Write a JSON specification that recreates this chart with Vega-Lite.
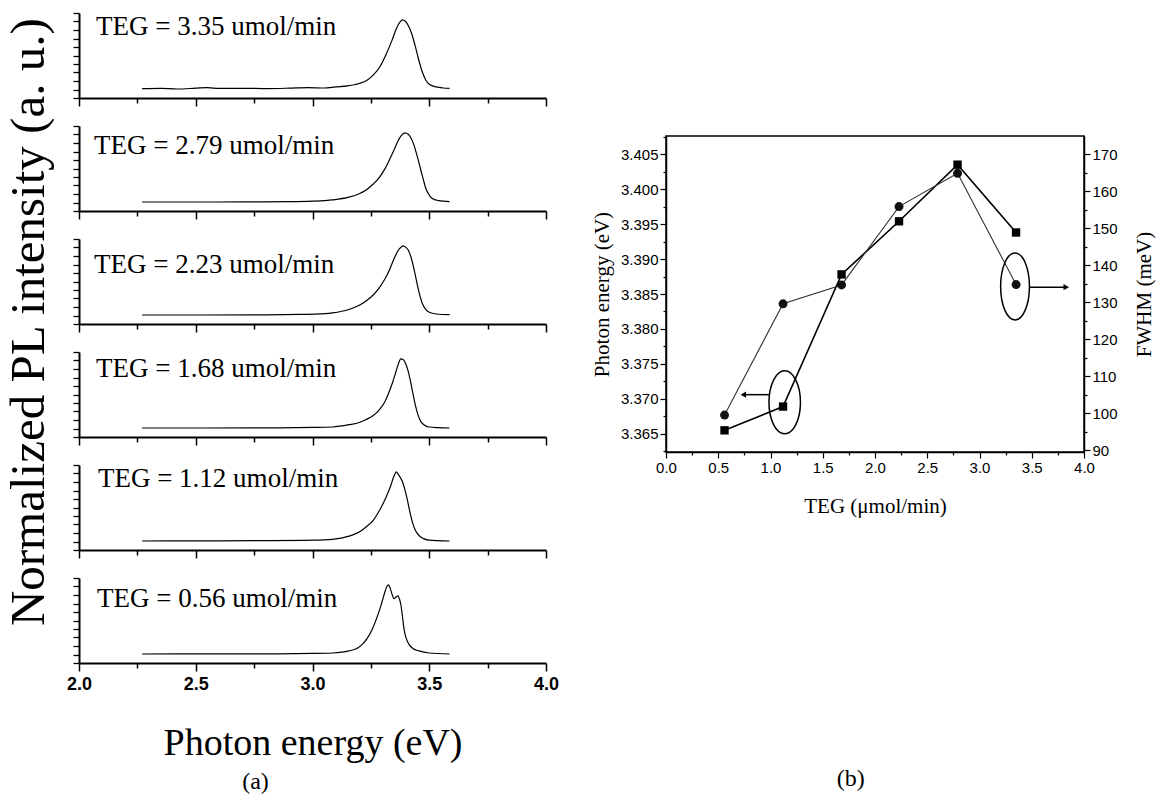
{
  "$schema": "https://vega.github.io/schema/vega-lite/v6.json",
  "background": "white",
  "padding": {"left": 5, "top": 12, "right": 5, "bottom": 5},
  "config": {
    "view": {"stroke": null},
    "font": "Liberation Sans",
    "axis": {"grid": false, "domainColor": "black", "tickColor": "black", "labelColor": "black", "titleColor": "black", "labelOverlap": false, "labelFlush": false, "tickCount": 60},
    "title": {"color": "black"}
  },
  "datasets": {
    "spectra": [
      {"teg": "3.35", "e": 2.27, "i": 0.005}, {"teg": "3.35", "e": 2.35, "i": 0.01}, {"teg": "3.35", "e": 2.42, "i": 0.0}, {"teg": "3.35", "e": 2.5, "i": 0.012}, {"teg": "3.35", "e": 2.55, "i": 0.02}, {"teg": "3.35", "e": 2.6, "i": 0.008}, {"teg": "3.35", "e": 2.7, "i": 0.01}, {"teg": "3.35", "e": 2.8, "i": 0.006}, {"teg": "3.35", "e": 2.9, "i": 0.012}, {"teg": "3.35", "e": 2.98, "i": 0.02}, {"teg": "3.35", "e": 3.05, "i": 0.015}, {"teg": "3.35", "e": 3.1, "i": 0.03}, {"teg": "3.35", "e": 3.15, "i": 0.045}, {"teg": "3.35", "e": 3.2, "i": 0.08}, {"teg": "3.35", "e": 3.23, "i": 0.12}, {"teg": "3.35", "e": 3.26, "i": 0.2}, {"teg": "3.35", "e": 3.29, "i": 0.33}, {"teg": "3.35", "e": 3.315, "i": 0.5}, {"teg": "3.35", "e": 3.34, "i": 0.7}, {"teg": "3.35", "e": 3.36, "i": 0.88}, {"teg": "3.35", "e": 3.375, "i": 0.97}, {"teg": "3.35", "e": 3.385, "i": 1.0}, {"teg": "3.35", "e": 3.398, "i": 0.98}, {"teg": "3.35", "e": 3.41, "i": 0.92}, {"teg": "3.35", "e": 3.425, "i": 0.8}, {"teg": "3.35", "e": 3.44, "i": 0.62}, {"teg": "3.35", "e": 3.455, "i": 0.42}, {"teg": "3.35", "e": 3.47, "i": 0.25}, {"teg": "3.35", "e": 3.485, "i": 0.13}, {"teg": "3.35", "e": 3.5, "i": 0.07}, {"teg": "3.35", "e": 3.53, "i": 0.03}, {"teg": "3.35", "e": 3.56, "i": 0.015}, {"teg": "3.35", "e": 3.587, "i": 0.01},

      {"teg": "2.79", "e": 2.27, "i": 0.0}, {"teg": "2.79", "e": 2.5, "i": 0.0}, {"teg": "2.79", "e": 2.7, "i": 0.002}, {"teg": "2.79", "e": 2.9, "i": 0.005}, {"teg": "2.79", "e": 3.0, "i": 0.012}, {"teg": "2.79", "e": 3.085, "i": 0.03}, {"teg": "2.79", "e": 3.156, "i": 0.07}, {"teg": "2.79", "e": 3.2, "i": 0.12}, {"teg": "2.79", "e": 3.228, "i": 0.17}, {"teg": "2.79", "e": 3.26, "i": 0.26}, {"teg": "2.79", "e": 3.285, "i": 0.35}, {"teg": "2.79", "e": 3.31, "i": 0.48}, {"teg": "2.79", "e": 3.328, "i": 0.6}, {"teg": "2.79", "e": 3.35, "i": 0.76}, {"teg": "2.79", "e": 3.364, "i": 0.87}, {"teg": "2.79", "e": 3.38, "i": 0.96}, {"teg": "2.79", "e": 3.396, "i": 1.0}, {"teg": "2.79", "e": 3.41, "i": 0.98}, {"teg": "2.79", "e": 3.421, "i": 0.93}, {"teg": "2.79", "e": 3.435, "i": 0.82}, {"teg": "2.79", "e": 3.442, "i": 0.74}, {"teg": "2.79", "e": 3.455, "i": 0.58}, {"teg": "2.79", "e": 3.464, "i": 0.46}, {"teg": "2.79", "e": 3.475, "i": 0.32}, {"teg": "2.79", "e": 3.485, "i": 0.2}, {"teg": "2.79", "e": 3.5, "i": 0.1}, {"teg": "2.79", "e": 3.513, "i": 0.05}, {"teg": "2.79", "e": 3.54, "i": 0.02}, {"teg": "2.79", "e": 3.587, "i": 0.005},

      {"teg": "2.23", "e": 2.27, "i": 0.0}, {"teg": "2.23", "e": 2.5, "i": 0.0}, {"teg": "2.23", "e": 2.8, "i": 0.003}, {"teg": "2.23", "e": 2.95, "i": 0.008}, {"teg": "2.23", "e": 3.013, "i": 0.012}, {"teg": "2.23", "e": 3.085, "i": 0.03}, {"teg": "2.23", "e": 3.156, "i": 0.08}, {"teg": "2.23", "e": 3.2, "i": 0.14}, {"teg": "2.23", "e": 3.228, "i": 0.2}, {"teg": "2.23", "e": 3.26, "i": 0.29}, {"teg": "2.23", "e": 3.285, "i": 0.39}, {"teg": "2.23", "e": 3.31, "i": 0.52}, {"teg": "2.23", "e": 3.328, "i": 0.64}, {"teg": "2.23", "e": 3.35, "i": 0.82}, {"teg": "2.23", "e": 3.364, "i": 0.92}, {"teg": "2.23", "e": 3.38, "i": 0.985}, {"teg": "2.23", "e": 3.389, "i": 1.0}, {"teg": "2.23", "e": 3.4, "i": 0.98}, {"teg": "2.23", "e": 3.41, "i": 0.94}, {"teg": "2.23", "e": 3.425, "i": 0.8}, {"teg": "2.23", "e": 3.435, "i": 0.66}, {"teg": "2.23", "e": 3.445, "i": 0.5}, {"teg": "2.23", "e": 3.456, "i": 0.33}, {"teg": "2.23", "e": 3.47, "i": 0.17}, {"teg": "2.23", "e": 3.485, "i": 0.08}, {"teg": "2.23", "e": 3.5, "i": 0.04}, {"teg": "2.23", "e": 3.53, "i": 0.015}, {"teg": "2.23", "e": 3.587, "i": 0.005},

      {"teg": "1.68", "e": 2.27, "i": 0.0}, {"teg": "1.68", "e": 2.5, "i": 0.0}, {"teg": "1.68", "e": 2.8, "i": 0.002}, {"teg": "1.68", "e": 3.0, "i": 0.008}, {"teg": "1.68", "e": 3.085, "i": 0.015}, {"teg": "1.68", "e": 3.156, "i": 0.048}, {"teg": "1.68", "e": 3.2, "i": 0.08}, {"teg": "1.68", "e": 3.228, "i": 0.12}, {"teg": "1.68", "e": 3.26, "i": 0.18}, {"teg": "1.68", "e": 3.285, "i": 0.26}, {"teg": "1.68", "e": 3.31, "i": 0.38}, {"teg": "1.68", "e": 3.328, "i": 0.52}, {"teg": "1.68", "e": 3.345, "i": 0.68}, {"teg": "1.68", "e": 3.356, "i": 0.8}, {"teg": "1.68", "e": 3.368, "i": 0.93}, {"teg": "1.68", "e": 3.378, "i": 1.0}, {"teg": "1.68", "e": 3.388, "i": 0.99}, {"teg": "1.68", "e": 3.399, "i": 0.93}, {"teg": "1.68", "e": 3.41, "i": 0.82}, {"teg": "1.68", "e": 3.42, "i": 0.67}, {"teg": "1.68", "e": 3.43, "i": 0.5}, {"teg": "1.68", "e": 3.442, "i": 0.31}, {"teg": "1.68", "e": 3.453, "i": 0.18}, {"teg": "1.68", "e": 3.463, "i": 0.1}, {"teg": "1.68", "e": 3.48, "i": 0.04}, {"teg": "1.68", "e": 3.499, "i": 0.015}, {"teg": "1.68", "e": 3.54, "i": 0.005}, {"teg": "1.68", "e": 3.587, "i": 0.0},

      {"teg": "1.12", "e": 2.27, "i": 0.0}, {"teg": "1.12", "e": 2.5, "i": 0.002}, {"teg": "1.12", "e": 2.8, "i": 0.005}, {"teg": "1.12", "e": 3.0, "i": 0.012}, {"teg": "1.12", "e": 3.085, "i": 0.025}, {"teg": "1.12", "e": 3.156, "i": 0.07}, {"teg": "1.12", "e": 3.2, "i": 0.13}, {"teg": "1.12", "e": 3.228, "i": 0.2}, {"teg": "1.12", "e": 3.26, "i": 0.3}, {"teg": "1.12", "e": 3.285, "i": 0.43}, {"teg": "1.12", "e": 3.305, "i": 0.56}, {"teg": "1.12", "e": 3.321, "i": 0.68}, {"teg": "1.12", "e": 3.335, "i": 0.8}, {"teg": "1.12", "e": 3.349, "i": 0.94}, {"teg": "1.12", "e": 3.359, "i": 1.0}, {"teg": "1.12", "e": 3.37, "i": 0.95}, {"teg": "1.12", "e": 3.385, "i": 0.86}, {"teg": "1.12", "e": 3.395, "i": 0.75}, {"teg": "1.12", "e": 3.406, "i": 0.6}, {"teg": "1.12", "e": 3.417, "i": 0.42}, {"teg": "1.12", "e": 3.428, "i": 0.27}, {"teg": "1.12", "e": 3.44, "i": 0.16}, {"teg": "1.12", "e": 3.456, "i": 0.08}, {"teg": "1.12", "e": 3.475, "i": 0.035}, {"teg": "1.12", "e": 3.499, "i": 0.014}, {"teg": "1.12", "e": 3.54, "i": 0.005}, {"teg": "1.12", "e": 3.587, "i": 0.0},

      {"teg": "0.56", "e": 2.27, "i": 0.0}, {"teg": "0.56", "e": 2.5, "i": 0.003}, {"teg": "0.56", "e": 2.8, "i": 0.003}, {"teg": "0.56", "e": 3.0, "i": 0.008}, {"teg": "0.56", "e": 3.085, "i": 0.015}, {"teg": "0.56", "e": 3.156, "i": 0.045}, {"teg": "0.56", "e": 3.19, "i": 0.08}, {"teg": "0.56", "e": 3.213, "i": 0.14}, {"teg": "0.56", "e": 3.235, "i": 0.23}, {"teg": "0.56", "e": 3.256, "i": 0.36}, {"teg": "0.56", "e": 3.275, "i": 0.52}, {"teg": "0.56", "e": 3.292, "i": 0.69}, {"teg": "0.56", "e": 3.305, "i": 0.84}, {"teg": "0.56", "e": 3.315, "i": 0.95}, {"teg": "0.56", "e": 3.325, "i": 1.0}, {"teg": "0.56", "e": 3.333, "i": 0.95}, {"teg": "0.56", "e": 3.341, "i": 0.86}, {"teg": "0.56", "e": 3.349, "i": 0.8}, {"teg": "0.56", "e": 3.357, "i": 0.82}, {"teg": "0.56", "e": 3.366, "i": 0.84}, {"teg": "0.56", "e": 3.372, "i": 0.8}, {"teg": "0.56", "e": 3.378, "i": 0.72}, {"teg": "0.56", "e": 3.385, "i": 0.55}, {"teg": "0.56", "e": 3.392, "i": 0.36}, {"teg": "0.56", "e": 3.4, "i": 0.24}, {"teg": "0.56", "e": 3.413, "i": 0.14}, {"teg": "0.56", "e": 3.43, "i": 0.08}, {"teg": "0.56", "e": 3.456, "i": 0.045}, {"teg": "0.56", "e": 3.5, "i": 0.015}, {"teg": "0.56", "e": 3.587, "i": 0.0}
    ],
    "labels": [
      {"teg": "3.35", "label": "TEG = 3.35 umol/min"},
      {"teg": "2.79", "label": "TEG = 2.79 umol/min"},
      {"teg": "2.23", "label": "TEG = 2.23 umol/min"},
      {"teg": "1.68", "label": "TEG = 1.68 umol/min"},
      {"teg": "1.12", "label": "TEG = 1.12 umol/min"},
      {"teg": "0.56", "label": "TEG = 0.56 umol/min"}
    ],
    "growth": [
      {"teg": 0.56, "pe": 3.3655, "fwhm": 99.5},
      {"teg": 1.12, "pe": 3.3689, "fwhm": 129.6},
      {"teg": 1.68, "pe": 3.3878, "fwhm": 134.7},
      {"teg": 2.23, "pe": 3.3954, "fwhm": 155.9},
      {"teg": 2.79, "pe": 3.4035, "fwhm": 164.9},
      {"teg": 3.35, "pe": 3.3938, "fwhm": 134.8}
    ]
  },
  "hconcat": [
    {
      "title": {"text": "Normalized PL intensity (a. u.)", "orient": "left", "anchor": "middle", "font": "Liberation Serif", "fontSize": 49, "fontWeight": "normal", "offset": 12, "dx": 81},
      "spacing": 18,
      "vconcat": [
        {
          "width": 467, "height": 85,
          "layer": [
            {"data": {"name": "spectra"}, "transform": [{"filter": "datum.teg === '3.35'"}],
             "mark": {"type": "line", "color": "black", "strokeWidth": 1.2, "interpolate": "monotone"},
             "encoding": {
               "x": {"field": "e", "type": "quantitative", "scale": {"domain": [2, 4], "nice": false}, "axis": {"values": [2, 2.25, 2.5, 2.75, 3, 3.25, 3.5, 3.75, 4], "labels": false, "title": null, "domainWidth": 2, "tickWidth": 1.5, "tickSize": {"condition": {"test": "datum.value % 0.5 === 0", "value": 8}, "value": 5}}},
               "y": {"field": "i", "type": "quantitative", "scale": {"domain": [-0.13, 1.1], "nice": false}, "axis": {"values": [-0.13, -0.007, 0.116, 0.239, 0.362, 0.485, 0.608, 0.731, 0.854, 0.977, 1.1], "labels": false, "title": null, "domainWidth": 2, "tickWidth": 1.3, "tickSize": 6}}
             }},
            {"data": {"name": "labels"}, "transform": [{"filter": "datum.teg === '3.35'"}],
             "mark": {"type": "text", "font": "Liberation Serif", "fontSize": 27, "align": "left", "baseline": "middle", "color": "black"},
             "encoding": {"x": {"datum": 2.073, "type": "quantitative"}, "y": {"datum": 0.9, "type": "quantitative"}, "text": {"field": "label"}}}
          ]
        },
        {
          "width": 467, "height": 85,
          "layer": [
            {"data": {"name": "spectra"}, "transform": [{"filter": "datum.teg === '2.79'"}],
             "mark": {"type": "line", "color": "black", "strokeWidth": 1.2, "interpolate": "monotone"},
             "encoding": {
               "x": {"field": "e", "type": "quantitative", "scale": {"domain": [2, 4], "nice": false}, "axis": {"values": [2, 2.25, 2.5, 2.75, 3, 3.25, 3.5, 3.75, 4], "labels": false, "title": null, "domainWidth": 2, "tickWidth": 1.5, "tickSize": {"condition": {"test": "datum.value % 0.5 === 0", "value": 8}, "value": 5}}},
               "y": {"field": "i", "type": "quantitative", "scale": {"domain": [-0.13, 1.1], "nice": false}, "axis": {"values": [-0.13, -0.007, 0.116, 0.239, 0.362, 0.485, 0.608, 0.731, 0.854, 0.977, 1.1], "labels": false, "title": null, "domainWidth": 2, "tickWidth": 1.3, "tickSize": 6}}
             }},
            {"data": {"name": "labels"}, "transform": [{"filter": "datum.teg === '2.79'"}],
             "mark": {"type": "text", "font": "Liberation Serif", "fontSize": 27, "align": "left", "baseline": "middle", "color": "black"},
             "encoding": {"x": {"datum": 2.064, "type": "quantitative"}, "y": {"datum": 0.81, "type": "quantitative"}, "text": {"field": "label"}}}
          ]
        },
        {
          "width": 467, "height": 85,
          "layer": [
            {"data": {"name": "spectra"}, "transform": [{"filter": "datum.teg === '2.23'"}],
             "mark": {"type": "line", "color": "black", "strokeWidth": 1.2, "interpolate": "monotone"},
             "encoding": {
               "x": {"field": "e", "type": "quantitative", "scale": {"domain": [2, 4], "nice": false}, "axis": {"values": [2, 2.25, 2.5, 2.75, 3, 3.25, 3.5, 3.75, 4], "labels": false, "title": null, "domainWidth": 2, "tickWidth": 1.5, "tickSize": {"condition": {"test": "datum.value % 0.5 === 0", "value": 8}, "value": 5}}},
               "y": {"field": "i", "type": "quantitative", "scale": {"domain": [-0.13, 1.1], "nice": false}, "axis": {"values": [-0.13, -0.007, 0.116, 0.239, 0.362, 0.485, 0.608, 0.731, 0.854, 0.977, 1.1], "labels": false, "title": null, "domainWidth": 2, "tickWidth": 1.3, "tickSize": 6}}
             }},
            {"data": {"name": "labels"}, "transform": [{"filter": "datum.teg === '2.23'"}],
             "mark": {"type": "text", "font": "Liberation Serif", "fontSize": 27, "align": "left", "baseline": "middle", "color": "black"},
             "encoding": {"x": {"datum": 2.064, "type": "quantitative"}, "y": {"datum": 0.72, "type": "quantitative"}, "text": {"field": "label"}}}
          ]
        },
        {
          "width": 467, "height": 85,
          "layer": [
            {"data": {"name": "spectra"}, "transform": [{"filter": "datum.teg === '1.68'"}],
             "mark": {"type": "line", "color": "black", "strokeWidth": 1.2, "interpolate": "monotone"},
             "encoding": {
               "x": {"field": "e", "type": "quantitative", "scale": {"domain": [2, 4], "nice": false}, "axis": {"values": [2, 2.25, 2.5, 2.75, 3, 3.25, 3.5, 3.75, 4], "labels": false, "title": null, "domainWidth": 2, "tickWidth": 1.5, "tickSize": {"condition": {"test": "datum.value % 0.5 === 0", "value": 8}, "value": 5}}},
               "y": {"field": "i", "type": "quantitative", "scale": {"domain": [-0.13, 1.1], "nice": false}, "axis": {"values": [-0.13, -0.007, 0.116, 0.239, 0.362, 0.485, 0.608, 0.731, 0.854, 0.977, 1.1], "labels": false, "title": null, "domainWidth": 2, "tickWidth": 1.3, "tickSize": 6}}
             }},
            {"data": {"name": "labels"}, "transform": [{"filter": "datum.teg === '1.68'"}],
             "mark": {"type": "text", "font": "Liberation Serif", "fontSize": 27, "align": "left", "baseline": "middle", "color": "black"},
             "encoding": {"x": {"datum": 2.073, "type": "quantitative"}, "y": {"datum": 0.85, "type": "quantitative"}, "text": {"field": "label"}}}
          ]
        },
        {
          "width": 467, "height": 85,
          "layer": [
            {"data": {"name": "spectra"}, "transform": [{"filter": "datum.teg === '1.12'"}],
             "mark": {"type": "line", "color": "black", "strokeWidth": 1.2, "interpolate": "monotone"},
             "encoding": {
               "x": {"field": "e", "type": "quantitative", "scale": {"domain": [2, 4], "nice": false}, "axis": {"values": [2, 2.25, 2.5, 2.75, 3, 3.25, 3.5, 3.75, 4], "labels": false, "title": null, "domainWidth": 2, "tickWidth": 1.5, "tickSize": {"condition": {"test": "datum.value % 0.5 === 0", "value": 8}, "value": 5}}},
               "y": {"field": "i", "type": "quantitative", "scale": {"domain": [-0.13, 1.1], "nice": false}, "axis": {"values": [-0.13, -0.007, 0.116, 0.239, 0.362, 0.485, 0.608, 0.731, 0.854, 0.977, 1.1], "labels": false, "title": null, "domainWidth": 2, "tickWidth": 1.3, "tickSize": 6}}
             }},
            {"data": {"name": "labels"}, "transform": [{"filter": "datum.teg === '1.12'"}],
             "mark": {"type": "text", "font": "Liberation Serif", "fontSize": 27, "align": "left", "baseline": "middle", "color": "black"},
             "encoding": {"x": {"datum": 2.081, "type": "quantitative"}, "y": {"datum": 0.9, "type": "quantitative"}, "text": {"field": "label"}}}
          ]
        },
        {
          "width": 467, "height": 85,
          "title": {"text": "(a)", "orient": "bottom", "anchor": "middle", "font": "Liberation Serif", "fontSize": 24, "fontWeight": "normal", "offset": 8, "dx": -57},
          "layer": [
            {"data": {"name": "spectra"}, "transform": [{"filter": "datum.teg === '0.56'"}],
             "mark": {"type": "line", "color": "black", "strokeWidth": 1.2, "interpolate": "monotone"},
             "encoding": {
               "x": {"field": "e", "type": "quantitative", "scale": {"domain": [2, 4], "nice": false}, "axis": {"values": [2, 2.25, 2.5, 2.75, 3, 3.25, 3.5, 3.75, 4], "labelExpr": "datum.value % 0.5 === 0 ? format(datum.value, '.1f') : ''", "labelFont": "Liberation Sans", "labelFontWeight": "bold", "labelFontSize": 18, "labelPadding": 4, "title": "Photon energy (eV)", "titleFont": "Liberation Serif", "titleFontSize": 38, "titleFontWeight": "normal", "titlePadding": 31, "domainWidth": 2, "tickWidth": 1.5, "tickSize": {"condition": {"test": "datum.value % 0.5 === 0", "value": 8}, "value": 5}}},
               "y": {"field": "i", "type": "quantitative", "scale": {"domain": [-0.13, 1.1], "nice": false}, "axis": {"values": [-0.13, -0.007, 0.116, 0.239, 0.362, 0.485, 0.608, 0.731, 0.854, 0.977, 1.1], "labels": false, "title": null, "domainWidth": 2, "tickWidth": 1.3, "tickSize": 6}}
             }},
            {"data": {"name": "labels"}, "transform": [{"filter": "datum.teg === '0.56'"}],
             "mark": {"type": "text", "font": "Liberation Serif", "fontSize": 27, "align": "left", "baseline": "middle", "color": "black"},
             "encoding": {"x": {"datum": 2.077, "type": "quantitative"}, "y": {"datum": 0.8, "type": "quantitative"}, "text": {"field": "label"}}}
          ]
        }
      ]
    },
    {
      "title": {"text": "(b)", "orient": "bottom", "anchor": "middle", "font": "Liberation Serif", "fontSize": 24, "fontWeight": "normal", "offset": 250, "dx": -22},
      "spacing": 20,
      "vconcat": [
        {
          "width": 418, "height": 95,
          "data": {"values": [{}]},
          "mark": {"type": "point", "opacity": 0},
          "encoding": {}
        },
        {
          "width": 418, "height": 316,
          "view": {"stroke": "black", "strokeWidth": 1.5},
          "data": {"name": "growth"},
          "layer": [
            {
              "layer": [
                {"mark": {"type": "line", "color": "black", "strokeWidth": 1.6},
                 "encoding": {
                   "x": {"field": "teg", "type": "quantitative", "scale": {"domain": [0, 4], "nice": false}, "axis": {"values": [0, 0.25, 0.5, 0.75, 1, 1.25, 1.5, 1.75, 2, 2.25, 2.5, 2.75, 3, 3.25, 3.5, 3.75, 4], "labelExpr": "datum.value % 0.5 === 0 ? format(datum.value, '.1f') : ''", "labelFont": "Liberation Sans", "labelFontSize": 15, "title": "TEG (μmol/min)", "titleFont": "Liberation Serif", "titleFontSize": 21, "titleFontWeight": "normal", "titlePadding": 20, "domainWidth": 1.5, "tickWidth": 1.2, "tickSize": {"condition": {"test": "datum.value % 0.5 === 0", "value": 6}, "value": 3}}},
                   "y": {"field": "pe", "type": "quantitative", "scale": {"domain": [3.3624, 3.4076], "nice": false}, "axis": {"orient": "left", "values": [3.3625, 3.365, 3.3675, 3.37, 3.3725, 3.375, 3.3775, 3.38, 3.3825, 3.385, 3.3875, 3.39, 3.3925, 3.395, 3.3975, 3.4, 3.4025, 3.405, 3.4075], "labelExpr": "round(datum.value * 1000) % 5 === 0 ? format(datum.value, '.3f') : ''", "labelFont": "Liberation Sans", "labelFontSize": 15, "title": "Photon energy (eV)", "titleFont": "Liberation Serif", "titleFontSize": 21, "titleFontWeight": "normal", "titlePadding": 8, "domainWidth": 1.5, "tickWidth": 1.2, "tickSize": {"condition": {"test": "round(datum.value * 1000) % 5 === 0", "value": 6}, "value": 3}}}
                 }},
                {"mark": {"type": "point", "shape": "square", "filled": true, "color": "black", "size": 70, "opacity": 1},
                 "encoding": {"x": {"field": "teg", "type": "quantitative"}, "y": {"field": "pe", "type": "quantitative"}}},
                {"data": {"values": [{}]},
                 "mark": {"type": "point", "shape": "M-0.5,0A0.5,1 0 1,1 0.5,0A0.5,1 0 1,1 -0.5,0Z", "filled": false, "stroke": "black", "strokeWidth": 1.5, "size": 3969, "opacity": 1},
                 "encoding": {"x": {"datum": 1.136, "type": "quantitative"}, "y": {"datum": 3.3695, "type": "quantitative"}}},
                {"data": {"values": [{}]},
                 "mark": {"type": "rule", "color": "black", "strokeWidth": 1.5},
                 "encoding": {"x": {"datum": 0.985, "type": "quantitative"}, "x2": {"datum": 0.76}, "y": {"datum": 3.3706, "type": "quantitative"}}},
                {"data": {"values": [{}]},
                 "mark": {"type": "point", "shape": "triangle-left", "filled": true, "color": "black", "size": 40, "opacity": 1},
                 "encoding": {"x": {"datum": 0.74, "type": "quantitative"}, "y": {"datum": 3.3706, "type": "quantitative"}}}
              ]
            },
            {
              "layer": [
                {"mark": {"type": "line", "color": "#333333", "strokeWidth": 1.1},
                 "encoding": {
                   "x": {"field": "teg", "type": "quantitative"},
                   "y": {"field": "fwhm", "type": "quantitative", "scale": {"domain": [89.5, 175], "nice": false}, "axis": {"orient": "right", "values": [90, 95, 100, 105, 110, 115, 120, 125, 130, 135, 140, 145, 150, 155, 160, 165, 170], "labelExpr": "datum.value % 10 === 0 ? format(datum.value, 'd') : ''", "labelFont": "Liberation Sans", "labelFontSize": 15, "title": "FWHM (meV)", "titleFont": "Liberation Serif", "titleFontSize": 21, "titleFontWeight": "normal", "titleAngle": 270, "titleBaseline": "top", "titlePadding": 16, "domainWidth": 1.5, "tickWidth": 1.2, "tickSize": {"condition": {"test": "datum.value % 10 === 0", "value": 6}, "value": 3}}}
                 }},
                {"mark": {"type": "point", "shape": "circle", "filled": true, "color": "#111111", "size": 80, "opacity": 1},
                 "encoding": {"x": {"field": "teg", "type": "quantitative"}, "y": {"field": "fwhm", "type": "quantitative"}}},
                {"data": {"values": [{}]},
                 "mark": {"type": "point", "shape": "M-0.43,0A0.43,1 0 1,1 0.43,0A0.43,1 0 1,1 -0.43,0Z", "filled": false, "stroke": "black", "strokeWidth": 1.5, "size": 4489, "opacity": 1},
                 "encoding": {"x": {"datum": 3.34, "type": "quantitative"}, "y": {"datum": 134.3, "type": "quantitative"}}},
                {"data": {"values": [{}]},
                 "mark": {"type": "rule", "color": "black", "strokeWidth": 1.5},
                 "encoding": {"x": {"datum": 3.48, "type": "quantitative"}, "x2": {"datum": 3.81}, "y": {"datum": 134.1, "type": "quantitative"}}},
                {"data": {"values": [{}]},
                 "mark": {"type": "point", "shape": "triangle-right", "filled": true, "color": "black", "size": 40, "opacity": 1},
                 "encoding": {"x": {"datum": 3.83, "type": "quantitative"}, "y": {"datum": 134.1, "type": "quantitative"}}}
              ]
            }
          ],
          "resolve": {"scale": {"y": "independent"}}
        }
      ]
    }
  ],
  "spacing": 31
}
